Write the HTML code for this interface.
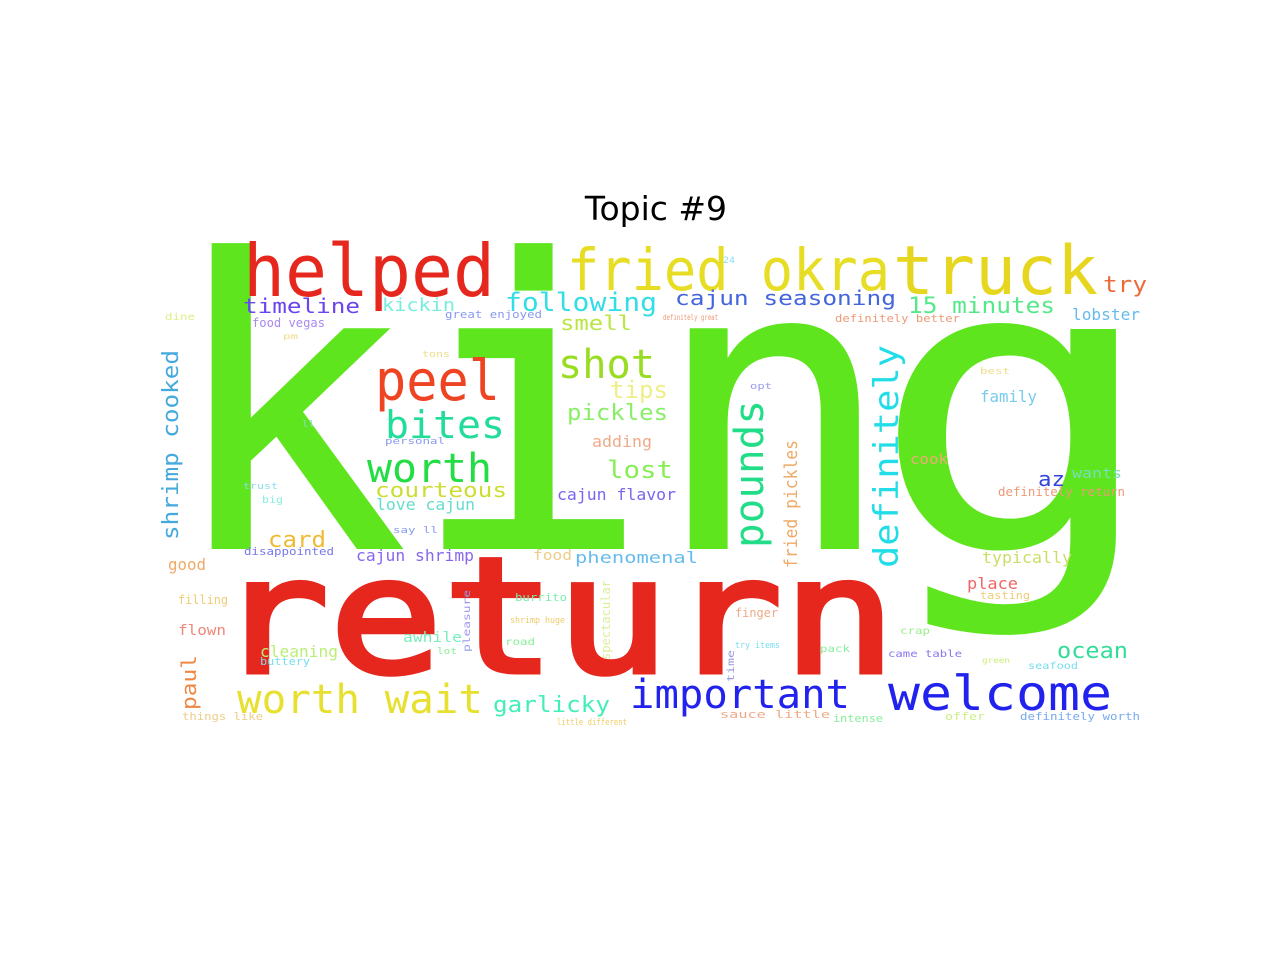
<!DOCTYPE html>
<html><head><meta charset="utf-8"><style>
html,body{margin:0;padding:0;background:#fff;}
svg{display:block;}
text{font-family:"DejaVu Sans Mono","Liberation Mono",monospace;}
.t{font-family:"DejaVu Sans","Liberation Sans",sans-serif;}
</style></head><body>
<svg width="1280" height="960" viewBox="0 0 1280 960">
<text class="t" x="656" y="220" font-size="33" text-anchor="middle" fill="#000">Topic #9</text>
<g>
<g fill="#5fe51e" stroke="#5fe51e" stroke-width="2" font-size="400">
<text x="287" y="548" text-anchor="middle">k</text>
<text x="530" y="548" text-anchor="middle">i</text>
<text x="773" y="548" text-anchor="middle">n</text>
<text x="1015" y="548" text-anchor="middle" transform="translate(1015,0) scale(1.2,1) translate(-1015,0)">g</text>
</g>
<text x="216" y="672" font-size="160" textLength="680" lengthAdjust="spacingAndGlyphs" fill="#e5271e" stroke="#e5271e" stroke-width="5">return</text>
<text x="243" y="296" font-size="72" textLength="252" lengthAdjust="spacingAndGlyphs" fill="#e5271e">helped</text>
<text x="567" y="290" font-size="58" textLength="323" lengthAdjust="spacingAndGlyphs" fill="#e6dd24">fried okra</text>
<text x="893" y="294" font-size="68" textLength="205" lengthAdjust="spacingAndGlyphs" fill="#e6d620">truck</text>
<text x="1103" y="292" font-size="22" textLength="44" lengthAdjust="spacingAndGlyphs" fill="#ec6a3a">try</text>
<text x="243" y="313" font-size="20" textLength="117" lengthAdjust="spacingAndGlyphs" fill="#6a44ee">timeline</text>
<text x="382" y="311" font-size="18" textLength="73" lengthAdjust="spacingAndGlyphs" fill="#77eedd">kickin</text>
<text x="505" y="311" font-size="26" textLength="152" lengthAdjust="spacingAndGlyphs" fill="#33dde8">following</text>
<text x="675" y="305" font-size="20" textLength="221" lengthAdjust="spacingAndGlyphs" fill="#4466dd">cajun seasoning</text>
<text x="908" y="313" font-size="22" textLength="147" lengthAdjust="spacingAndGlyphs" fill="#55e888">15 minutes</text>
<text x="1072" y="320" font-size="16" textLength="68" lengthAdjust="spacingAndGlyphs" fill="#66bbee">lobster</text>
<text x="445" y="318" font-size="11" textLength="97" lengthAdjust="spacingAndGlyphs" fill="#8899ee">great enjoyed</text>
<text x="663" y="320" font-size="8" textLength="55" lengthAdjust="spacingAndGlyphs" fill="#ee9977">definitely great</text>
<text x="560" y="330" font-size="20" textLength="72" lengthAdjust="spacingAndGlyphs" fill="#bbe544">smell</text>
<text x="835" y="322" font-size="11" textLength="125" lengthAdjust="spacingAndGlyphs" fill="#ee9977">definitely better</text>
<text x="165" y="320" font-size="10" textLength="30" lengthAdjust="spacingAndGlyphs" fill="#ddee88">dine</text>
<text x="252" y="327" font-size="12" textLength="73" lengthAdjust="spacingAndGlyphs" fill="#aa88ee">food vegas</text>
<text x="375" y="400" font-size="56" textLength="125" lengthAdjust="spacingAndGlyphs" fill="#ee4422">peel</text>
<text x="558" y="378" font-size="40" textLength="97" lengthAdjust="spacingAndGlyphs" fill="#99dd22">shot</text>
<text x="610" y="398" font-size="24" textLength="58" lengthAdjust="spacingAndGlyphs" fill="#eeee88">tips</text>
<text x="567" y="420" font-size="22" textLength="101" lengthAdjust="spacingAndGlyphs" fill="#88ee66">pickles</text>
<text x="385" y="438" font-size="38" textLength="120" lengthAdjust="spacingAndGlyphs" fill="#22dd99">bites</text>
<text x="592" y="447" font-size="16" textLength="60" lengthAdjust="spacingAndGlyphs" fill="#eeaa88">adding</text>
<text x="367" y="482" font-size="40" textLength="125" lengthAdjust="spacingAndGlyphs" fill="#22dd44">worth</text>
<text x="607" y="478" font-size="24" textLength="66" lengthAdjust="spacingAndGlyphs" fill="#88ee55">lost</text>
<text x="375" y="497" font-size="20" textLength="132" lengthAdjust="spacingAndGlyphs" fill="#ccdd33">courteous</text>
<text x="376" y="510" font-size="16" textLength="99" lengthAdjust="spacingAndGlyphs" fill="#66ddcc">love cajun</text>
<text x="557" y="500" font-size="16" textLength="119" lengthAdjust="spacingAndGlyphs" fill="#7766ee">cajun flavor</text>
<text x="268" y="547" font-size="22" textLength="58" lengthAdjust="spacingAndGlyphs" fill="#eebb33">card</text>
<text x="178" y="540" font-size="22" textLength="190" lengthAdjust="spacingAndGlyphs" fill="#44aadd" transform="rotate(-90 178 540)">shrimp cooked</text>
<text x="763" y="548" font-size="40" textLength="148" lengthAdjust="spacingAndGlyphs" fill="#22dd88" transform="rotate(-90 763 548)">pounds</text>
<text x="797" y="568" font-size="18" textLength="128" lengthAdjust="spacingAndGlyphs" fill="#eeaa66" transform="rotate(-90 797 568)">fried pickles</text>
<text x="898" y="568" font-size="34" textLength="223" lengthAdjust="spacingAndGlyphs" fill="#22dde8" transform="rotate(-90 898 568)">definitely</text>
<text x="980" y="402" font-size="16" textLength="57" lengthAdjust="spacingAndGlyphs" fill="#77ccee">family</text>
<text x="910" y="464" font-size="14" textLength="38" lengthAdjust="spacingAndGlyphs" fill="#eeaa77">cook</text>
<text x="1038" y="486" font-size="20" textLength="27" lengthAdjust="spacingAndGlyphs" fill="#3344dd">az</text>
<text x="1072" y="478" font-size="14" textLength="50" lengthAdjust="spacingAndGlyphs" fill="#77ddbb">wants</text>
<text x="998" y="496" font-size="12" textLength="127" lengthAdjust="spacingAndGlyphs" fill="#ee9977">definitely return</text>
<text x="982" y="563" font-size="16" textLength="90" lengthAdjust="spacingAndGlyphs" fill="#ccdd66">typically</text>
<text x="967" y="589" font-size="16" textLength="51" lengthAdjust="spacingAndGlyphs" fill="#ee6666">place</text>
<text x="980" y="599" font-size="11" textLength="50" lengthAdjust="spacingAndGlyphs" fill="#eecc77">tasting</text>
<text x="1057" y="658" font-size="22" textLength="71" lengthAdjust="spacingAndGlyphs" fill="#33dd99">ocean</text>
<text x="888" y="710" font-size="48" textLength="224" lengthAdjust="spacingAndGlyphs" fill="#2222ee">welcome</text>
<text x="630" y="708" font-size="40" textLength="220" lengthAdjust="spacingAndGlyphs" fill="#2222ee">important</text>
<text x="237" y="713" font-size="40" textLength="246" lengthAdjust="spacingAndGlyphs" fill="#e8e030">worth wait</text>
<text x="493" y="712" font-size="22" textLength="117" lengthAdjust="spacingAndGlyphs" fill="#44eebb">garlicky</text>
<text x="196" y="710" font-size="20" textLength="55" lengthAdjust="spacingAndGlyphs" fill="#ee8844" transform="rotate(-90 196 710)">paul</text>
<text x="168" y="570" font-size="16" textLength="38" lengthAdjust="spacingAndGlyphs" fill="#eeaa66">good</text>
<text x="178" y="604" font-size="12" textLength="50" lengthAdjust="spacingAndGlyphs" fill="#eecc77">filling</text>
<text x="178" y="635" font-size="14" textLength="48" lengthAdjust="spacingAndGlyphs" fill="#ee8877">flown</text>
<text x="260" y="657" font-size="16" textLength="78" lengthAdjust="spacingAndGlyphs" fill="#bbee77">cleaning</text>
<text x="260" y="665" font-size="11" textLength="50" lengthAdjust="spacingAndGlyphs" fill="#77ddee">buttery</text>
<text x="403" y="642" font-size="14" textLength="59" lengthAdjust="spacingAndGlyphs" fill="#77eebb">awhile</text>
<text x="356" y="561" font-size="16" textLength="118" lengthAdjust="spacingAndGlyphs" fill="#8866ee">cajun shrimp</text>
<text x="244" y="555" font-size="11" textLength="90" lengthAdjust="spacingAndGlyphs" fill="#7777ee">disappointed</text>
<text x="533" y="560" font-size="14" textLength="39" lengthAdjust="spacingAndGlyphs" fill="#eecc88">food</text>
<text x="575" y="563" font-size="16" textLength="123" lengthAdjust="spacingAndGlyphs" fill="#66bbee">phenomenal</text>
<text x="1020" y="720" font-size="11" textLength="120" lengthAdjust="spacingAndGlyphs" fill="#77aaee">definitely worth</text>
<text x="833" y="722" font-size="11" textLength="50" lengthAdjust="spacingAndGlyphs" fill="#88ee99">intense</text>
<text x="945" y="720" font-size="11" textLength="40" lengthAdjust="spacingAndGlyphs" fill="#ccee88">offer</text>
<text x="720" y="718" font-size="11" textLength="110" lengthAdjust="spacingAndGlyphs" fill="#eeaa88">sauce little</text>
<text x="557" y="725" font-size="9" textLength="70" lengthAdjust="spacingAndGlyphs" fill="#eecc66">little different</text>
<text x="182" y="720" font-size="11" textLength="81" lengthAdjust="spacingAndGlyphs" fill="#eecc88">things like</text>
<text x="515" y="601" font-size="11" textLength="52" lengthAdjust="spacingAndGlyphs" fill="#77eeaa">burrito</text>
<text x="510" y="623" font-size="9" textLength="55" lengthAdjust="spacingAndGlyphs" fill="#eecc66">shrimp huge</text>
<text x="505" y="645" font-size="10" textLength="30" lengthAdjust="spacingAndGlyphs" fill="#88ee99">road</text>
<text x="610" y="660" font-size="12" textLength="80" lengthAdjust="spacingAndGlyphs" fill="#ddee99" transform="rotate(-90 610 660)">spectacular</text>
<text x="470" y="652" font-size="10" textLength="62" lengthAdjust="spacingAndGlyphs" fill="#9999ee" transform="rotate(-90 470 652)">pleasure</text>
<text x="734" y="682" font-size="10" textLength="32" lengthAdjust="spacingAndGlyphs" fill="#9999dd" transform="rotate(-90 734 682)">time</text>
<text x="735" y="617" font-size="12" textLength="43" lengthAdjust="spacingAndGlyphs" fill="#eeaa88">finger</text>
<text x="735" y="648" font-size="9" textLength="45" lengthAdjust="spacingAndGlyphs" fill="#77ddee">try items</text>
<text x="820" y="652" font-size="10" textLength="30" lengthAdjust="spacingAndGlyphs" fill="#88ee99">pack</text>
<text x="900" y="634" font-size="10" textLength="30" lengthAdjust="spacingAndGlyphs" fill="#99ee88">crap</text>
<text x="888" y="657" font-size="10" textLength="74" lengthAdjust="spacingAndGlyphs" fill="#8877ee">came table</text>
<text x="1028" y="669" font-size="10" textLength="50" lengthAdjust="spacingAndGlyphs" fill="#77ddee">seafood</text>
<text x="982" y="663" font-size="8" textLength="28" lengthAdjust="spacingAndGlyphs" fill="#ccee77">green</text>
<text x="437" y="654" font-size="9" textLength="20" lengthAdjust="spacingAndGlyphs" fill="#88ee99">lot</text>
<text x="723" y="263" font-size="9" textLength="12" lengthAdjust="spacingAndGlyphs" fill="#88ddee">24</text>
<text x="750" y="389" font-size="9" textLength="22" lengthAdjust="spacingAndGlyphs" fill="#9999ee">opt</text>
<text x="422" y="357" font-size="9" textLength="28" lengthAdjust="spacingAndGlyphs" fill="#eedd88">tons</text>
<text x="302" y="427" font-size="9" textLength="13" lengthAdjust="spacingAndGlyphs" fill="#88ddcc">ll</text>
<text x="385" y="444" font-size="9" textLength="60" lengthAdjust="spacingAndGlyphs" fill="#8899ee">personal</text>
<text x="243" y="489" font-size="9" textLength="35" lengthAdjust="spacingAndGlyphs" fill="#88ddee">trust</text>
<text x="262" y="503" font-size="10" textLength="21" lengthAdjust="spacingAndGlyphs" fill="#88eedd">big</text>
<text x="393" y="533" font-size="9" textLength="45" lengthAdjust="spacingAndGlyphs" fill="#8899ee">say ll</text>
<text x="980" y="374" font-size="9" textLength="30" lengthAdjust="spacingAndGlyphs" fill="#eedd88">best</text>
<text x="283" y="339" font-size="8" textLength="15" lengthAdjust="spacingAndGlyphs" fill="#eedd88">pm</text>
</g>
</svg>
</body></html>
